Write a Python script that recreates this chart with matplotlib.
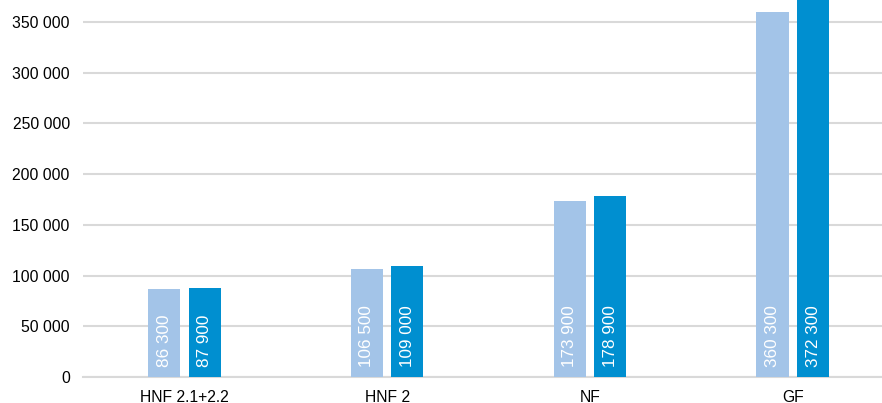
import numpy as np
import matplotlib
matplotlib.use("Agg")
import matplotlib.pyplot as plt

plt.rcParams['font.family'] = ['Liberation Sans', 'DejaVu Sans']

# data
categories = ["HNF 2.1+2.2", "HNF 2", "NF", "GF"]
series_a = [86300, 106500, 173900, 360300]
series_b = [87900, 109000, 178900, 372300]
y_ticks = [0, 50000, 100000, 150000, 200000, 250000, 300000, 350000]

light = "#A3C4E8"
dark = "#008FD0"
grid_col = "#D9D9D9"


def fmt(v):
    return "{:,}".format(v).replace(",", " ")


fig = plt.figure(figsize=(8.82, 4.03), dpi=100)
ax = fig.add_axes([83 / 882, 26 / 403, 1 - 83 / 882, 1 - 26 / 403])

x = np.arange(len(categories))
w = 0.158
off = 0.1

bars_a = ax.bar(x - off, series_a, w, color=light, zorder=3)
bars_b = ax.bar(x + off, series_b, w, color=dark, zorder=3)

# value labels, rotated, near the base of each bar
for bars, vals in ((bars_a, series_a), (bars_b, series_b)):
    for b, v in zip(bars, vals):
        ax.annotate(fmt(v), (b.get_x() + b.get_width() / 2, 0),
                    xytext=(0, 7), textcoords="offset points",
                    rotation=90, ha="center", va="bottom",
                    color="white", fontsize=12.3, zorder=4)

ax.set_xlim(-0.5, 3.44)
ax.set_ylim(0, 371700)
ax.set_yticks(y_ticks)
ax.set_yticklabels([fmt(t) for t in y_ticks])
ax.set_xticks(x)
ax.set_xticklabels(categories)

ax.tick_params(axis="both", length=0, labelsize=11.3, colors="black")
ax.tick_params(axis="y", pad=9.5)
ax.tick_params(axis="x", pad=9)

ax.yaxis.grid(True, color=grid_col, linewidth=1.5, zorder=0)
for s in ("top", "right", "left"):
    ax.spines[s].set_visible(False)
ax.spines["bottom"].set_color(grid_col)
ax.spines["bottom"].set_linewidth(1.5)
ax.spines["bottom"].set_zorder(1)

fig.savefig("out.png", dpi=100)
